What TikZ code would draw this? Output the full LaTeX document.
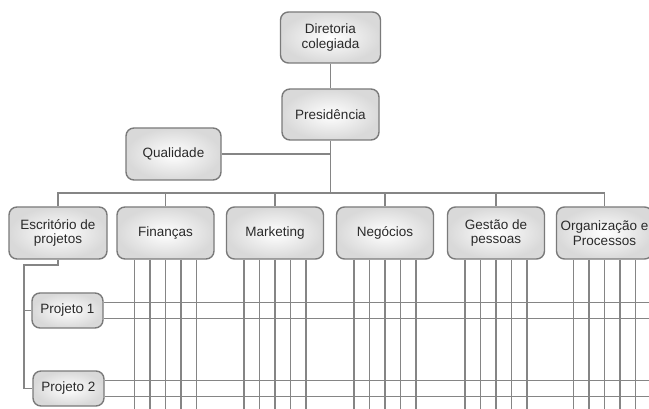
\documentclass[tikz,border=0pt]{standalone}
\usepackage{fontspec}
\setmainfont{Liberation Sans}
\definecolor{linegray}{HTML}{858585}
\definecolor{boxedge}{HTML}{7A7A7A}
\definecolor{boxfill}{HTML}{D9D9D9}
\definecolor{txt}{HTML}{2A2A2A}
\begin{document}
\begin{tikzpicture}[x=1pt,y=-1pt,
  unitbox/.style={draw=boxedge, line width=1.4pt, rounded corners=8pt,
    inner color=white, outer color=boxfill, align=center, text=txt,
    font=\fontsize{13.5}{14.5}\selectfont, inner sep=0pt},
  deptbox/.style={unitbox, minimum width=97pt, minimum height=52pt},
  projbox/.style={unitbox, minimum width=71pt, minimum height=35pt},
  conn/.style={draw=linegray, line width=1.5pt}]
\useasboundingbox (0,0) rectangle (649,409);

% top
\node[unitbox, minimum width=100pt, minimum height=51pt] (dir) at (330.5,37.5) {Diretoria\\colegiada};
\node[unitbox, minimum width=97pt, minimum height=51pt] (pres) at (330.5,114.5) {Presidência};
\node[unitbox, minimum width=95pt, minimum height=52pt] (qual) at (173.5,154) {Qualidade};

% departments
\node[deptbox, minimum width=98pt] (esc) at (58,233) {Escritório de\\projetos};
\node[deptbox] (fin) at (165.5,233) {Finanças};
\node[deptbox] (mkt) at (275,233) {Marketing};
\node[deptbox] (neg) at (385,233) {Negócios};
\node[deptbox] (ges) at (496,233) {Gestão de\\pessoas};
\node[deptbox, minimum width=96pt] (org) at (604.5,233) {Organização e\\Processos};

% projects
\node[projbox] (p1) at (67.5,310.5) {Projeto 1};
\node[projbox] (p2) at (68.5,388.5) {Projeto 2};

\coordinate (bus) at (330.5,193);
\coordinate (spine) at (24,265);
\coordinate (edgeR) at (650,0);
\coordinate (edgeB) at (0,410);

\draw[conn] (dir) -- (pres);
\draw[conn] (pres) -- (bus);
\draw[conn] (qual.east) -- (qual.east -| pres.south);
\draw[conn] (esc.north) |- (bus) -| (org.north);
\foreach \n in {fin,mkt,neg,ges}{
  \draw[conn] (\n.north) -- (\n.north |- bus);
}

\draw[conn] (esc.south) |- (spine) |- (p2.west);
\draw[conn] (p1.west) -- (p1.west -| spine);

% matrix lines
\foreach \n in {fin,mkt,neg,ges,org}{
  \foreach \k in {-2,...,2}{
    \draw[conn] ([xshift=\k*15.5pt]\n.south) -- ([xshift=\k*15.5pt]\n.south |- edgeB);
  }
}
\foreach \n in {p1,p2}{
  \foreach \d in {8,-8}{
    \draw[conn] ([yshift=\d pt]\n.east) -- ([yshift=\d pt]\n.east -| edgeR);
  }
}
\end{tikzpicture}
\end{document}
